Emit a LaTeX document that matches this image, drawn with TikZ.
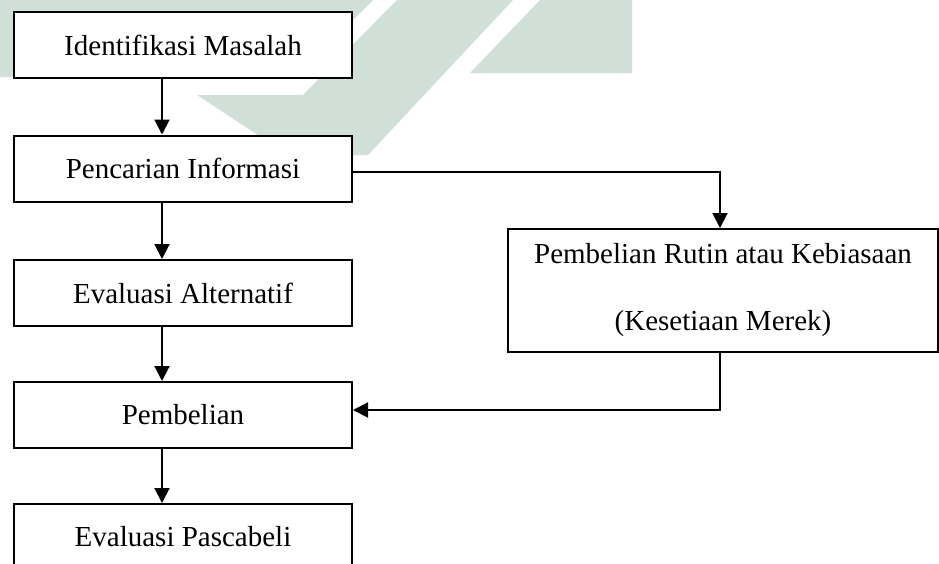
\documentclass[tikz,border=0pt]{standalone}
\usepackage{fontspec}
\setmainfont{Liberation Serif}
\usetikzlibrary{arrows.meta}
\definecolor{wm}{RGB}{208,224,216}
\begin{document}
\begin{tikzpicture}[x=1pt,y=-1pt,
  box/.style={draw,line width=2pt,fill=white,rectangle,inner sep=0pt,
    minimum width=338pt,minimum height=66pt,font=\fontsize{29}{35}\selectfont},
  conn/.style={line width=2pt,-{Triangle[width=15pt,length=15pt]}},
  link/.style={line width=2pt}]
\useasboundingbox (0,0) rectangle (939,563);
\clip (0,0) rectangle (939,563);
% watermark
\fill[wm] (0,0) -- (373,0) -- (296,77) -- (0,77) -- cycle;
\fill[wm] (197,95) -- (303,95) -- (397,0) -- (513,0) -- (368,155) -- (288,155) -- cycle;
\fill[wm] (470,73) -- (540,0) -- (632,0) -- (632,73) -- cycle;
% nodes
\node[box] (p1) at (183,45) {Identifikasi Masalah};
\node[box] (p2) at (183,168.5) {Pencarian Informasi};
\node[box] (p3) at (183,293) {Evaluasi Alternatif};
\node[box] (p4) at (183,415) {Pembelian};
\node[box] (p5) at (183,537) {Evaluasi Pascabeli};
\node[box,minimum width=430pt,minimum height=123pt,align=center] (rt) at (723,290.5)
  {Pembelian Rutin atau Kebiasaan\\[32pt](Kesetiaan Merek)};
% connectors
\draw[conn] (p1.south -| 162,0) -- (p2.north -| 162,0);
\draw[conn] (p2.south -| 162,0) -- (p3.north -| 162,0);
\draw[conn] (p3.south -| 162,0) -- (p4.north -| 162,0);
\draw[conn] (p4.south -| 162,0) -- (p5.north -| 162,0);
\draw[conn] ([yshift=-3.5pt]p2.east) -| ([xshift=-3pt]rt.north);
\draw[conn] ([xshift=-3pt]rt.south) |- ([yshift=5pt]p4.east);
\end{tikzpicture}
\end{document}
